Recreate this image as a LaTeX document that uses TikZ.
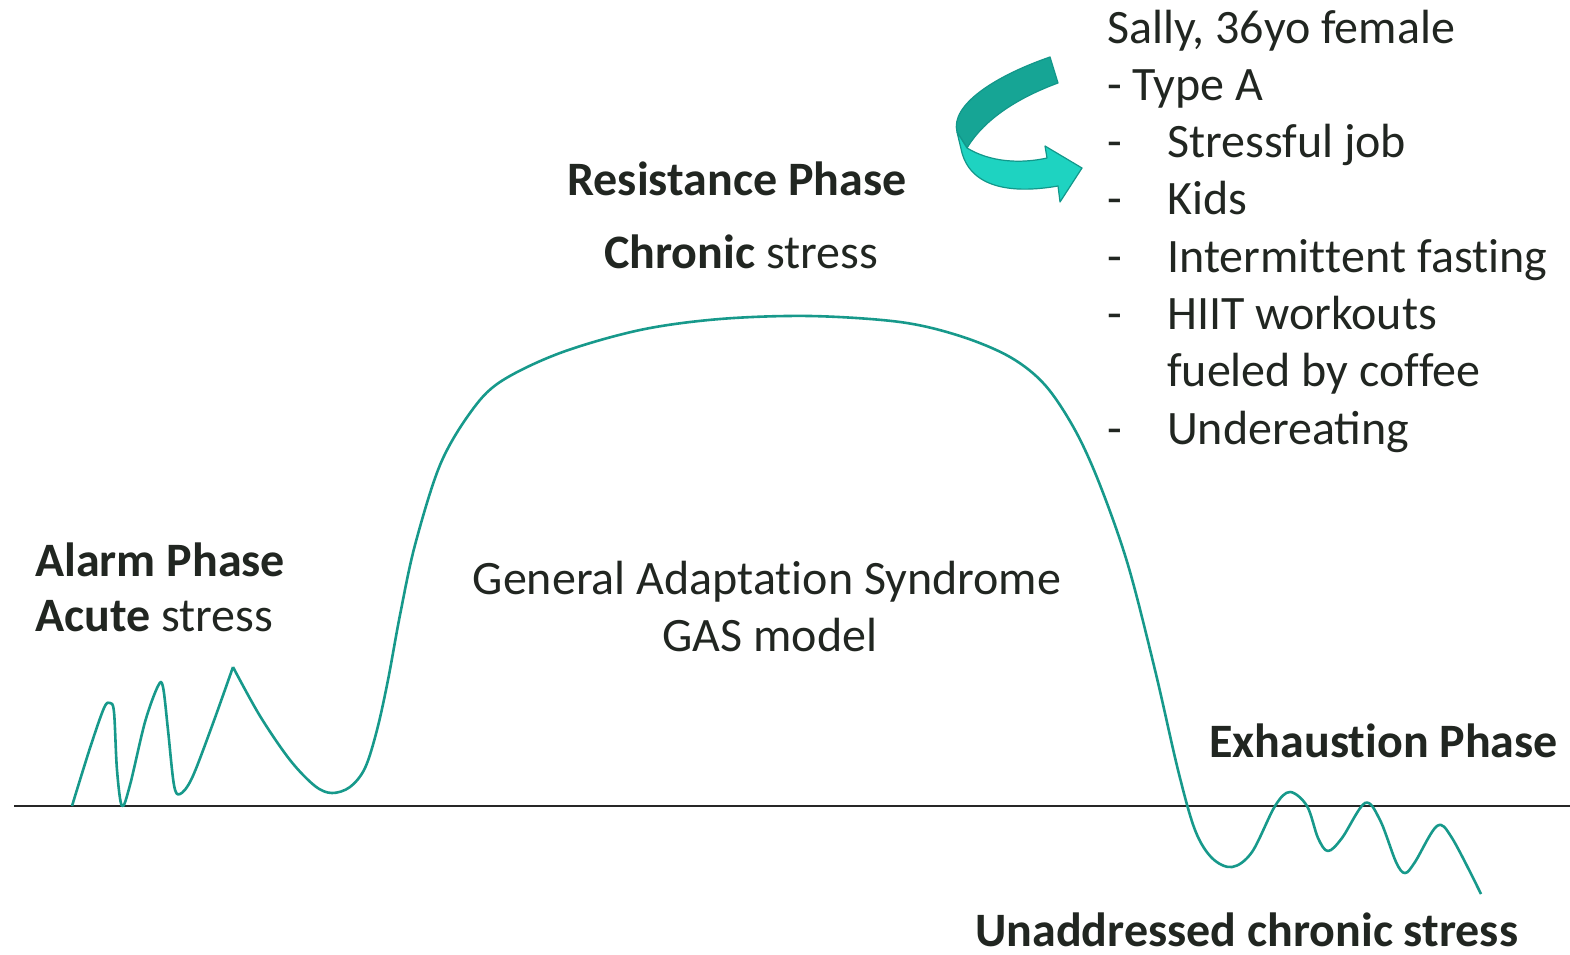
\documentclass[tikz,border=0pt]{standalone}
\usepackage{fontspec}
\setmainfont{Carlito}
\usetikzlibrary{positioning}
\definecolor{txtgray}{HTML}{212621}
\definecolor{gasteal}{HTML}{17998B}
\definecolor{arrdark}{HTML}{16A595}
\definecolor{arrlight}{HTML}{1ED3C1}
\definecolor{arredge}{HTML}{12978A}
\tikzset{
  lbl/.style={inner sep=0pt, text=txtgray, font=\fontsize{48}{57.5}\selectfont},
  blbl/.style={lbl, font=\fontsize{48}{57.5}\selectfont\bfseries},
  item/.style={lbl, anchor=base west},
}
\newcommand{\dashitem}[1]{\makebox[60pt][l]{-}#1}
\newcommand{\nolig}{\kern0pt}% keeps Carlito from joining t+i, t+t, f+f

\begin{document}
\begin{tikzpicture}[x=1pt, y=-1pt]
\useasboundingbox (0,0) rectangle (1570,954);

% labels of the three phases
\node (res)[blbl, anchor=base] at (737,195) {Resistance Phase};
\node (chronic)[lbl, anchor=base] at (741,268) {\textbf{Chronic} stress};
\node (alarm)[blbl, anchor=base west] at (35,576) {Alarm Phase};
\node (acute)[lbl, anchor=base west] at (35,631) {\textbf{Acute} stress};
\node (gas)[lbl, anchor=base] at (767,594) {General Adaptat\nolig ion Syndrome};
\node (gasmodel)[lbl, anchor=base] at (770,651) {GAS model};
\node (exh)[blbl, anchor=base east] at (1558,757) {Exhaust\nolig ion Phase};
\node (unadd)[blbl, anchor=base west] at (975,946) {Unaddressed chronic stress};

% the case
\node (sally)[item] at (1107,43) {Sally, 36yo female};
\node (typea)[item] at (1107,100) {- Type A};
\node (job)[item] at (1107,157) {\dashitem{Stressful job}};
\node (kids)[item] at (1107,214) {\dashitem{Kids}};
\node (fast)[item] at (1107,272) {\dashitem{Intermit\nolig t\nolig ent fast\nolig ing}};
\node (hiit)[item] at (1107,329) {\dashitem{HIIT workouts}};
\node (coffee)[item] at (1107,386) {\hspace*{60pt}fueled by cof\nolig fee};
\node (under)[item] at (1107,444) {\dashitem{Undereating}};

% baseline
\coordinate (x0) at (14,806);
\coordinate (x1) at (1570,806);
\draw[line width=1.3pt, black!85] (x0) -- (x1);

% curved arrow
\fill[arrdark, draw=arredge, line width=1.2pt, line join=round]
  (1050,57) .. controls (995,76) and (950,105) .. (957,132)
  -- (967,148) .. controls (985,118) and (1020,97) .. (1058,83) -- cycle;
\fill[arrlight, draw=arredge, line width=1.2pt, line join=round]
  (957,132) -- (967,148) .. controls (990,162) and (1020,164) .. (1047,158)
  -- (1045,146) -- (1082,168) -- (1060,202) -- (1058,186)
  .. controls (1012,194) and (972,188) .. (962,153) -- cycle;

% GAS curve
\draw[gasteal, line width=2.6pt, line join=round]
  plot[smooth, tension=0.55] coordinates {(72,806) (90,748) (104,708) (110,703)
    (114,712) (117,770) (122,806) (130,785) (145,722) (158,686) (163,687)
    (168,730) (174,785) (180,794) (192,778) (212,726) (233,667)}
  plot[smooth, tension=0.55] coordinates {(233,667) (260,716) (290,760)
    (315,786) (332,793) (350,787) (365,768) (377,730) (388,680) (400,615)
    (415,545) (440,465) (470,413) (500,382) (560,353) (640,330) (720,319)
    (810,316) (900,322) (960,336) (1010,357) (1045,385) (1075,430) (1100,485)
    (1128,565) (1155,670) (1178,770) (1195,830) (1212,858) (1232,867)
    (1252,852) (1275,806) (1290,792) (1307,806) (1318,838) (1328,851)
    (1342,838) (1365,803) (1380,820) (1396,862) (1405,873) (1415,862)
    (1437,826) (1452,838) (1481,894)};
\end{tikzpicture}
\end{document}
